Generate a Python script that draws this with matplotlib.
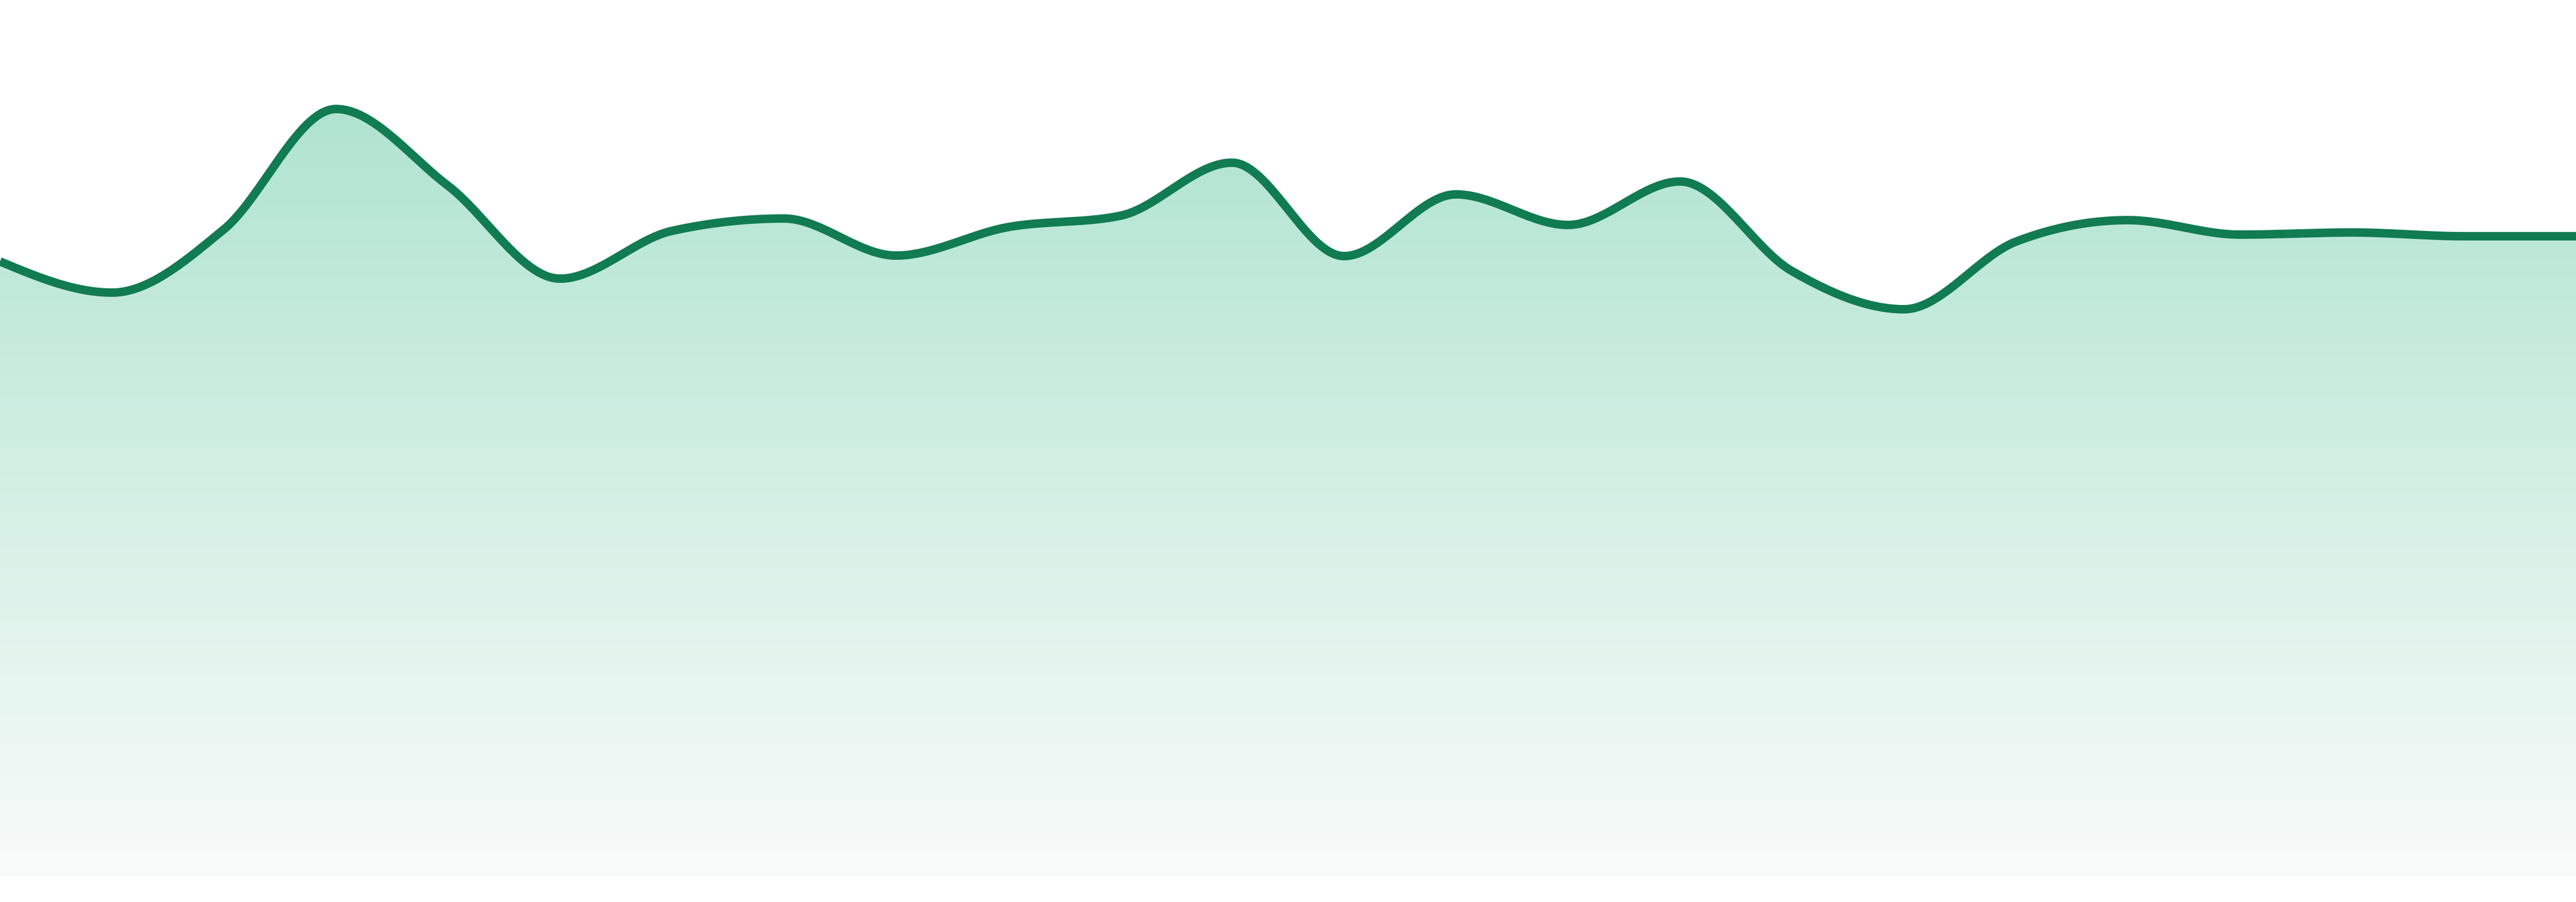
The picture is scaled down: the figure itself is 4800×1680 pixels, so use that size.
import numpy as np
import matplotlib
matplotlib.use("Agg")
import matplotlib.pyplot as plt
from matplotlib.colors import LinearSegmentedColormap

# series (height above the baseline, in px)
days = np.arange(24)
values = [1145, 1087, 1205, 1429, 1286, 1113, 1202, 1225, 1156, 1209, 1230, 1329,
          1155, 1270, 1213, 1294, 1127, 1056, 1182, 1222, 1195, 1199, 1192, 1192]

line_color = "#117b51"
fill_top = "#b0e4d0"
fill_bottom = "#f8fbfa"


def monotone_x(x, y, n=40):
    # cubic hermite with monotone tangents, same idea as d3.curveMonotoneX
    x = np.asarray(x, float)
    y = np.asarray(y, float)
    h = np.diff(x)
    s = np.diff(y) / h
    t = np.zeros_like(y)
    for i in range(1, len(y) - 1):
        p = (s[i - 1] * h[i] + s[i] * h[i - 1]) / (h[i - 1] + h[i])
        t[i] = (np.sign(s[i - 1]) + np.sign(s[i])) * min(abs(s[i - 1]), abs(s[i]), 0.5 * abs(p))
    t[0] = (3 * s[0] - t[1]) / 2
    t[-1] = (3 * s[-1] - t[-2]) / 2
    xs, ys = [], []
    for i in range(len(h)):
        u = np.linspace(0, 1, n, endpoint=(i == len(h) - 1))
        h00 = 2 * u**3 - 3 * u**2 + 1
        h10 = u**3 - 2 * u**2 + u
        h01 = -2 * u**3 + 3 * u**2
        h11 = u**3 - u**2
        xs.append(x[i] + u * h[i])
        ys.append(h00 * y[i] + h10 * h[i] * t[i] + h01 * y[i + 1] + h11 * h[i] * t[i + 1])
    return np.concatenate(xs), np.concatenate(ys)


fig = plt.figure(figsize=(16, 5.6), dpi=300)
ax = fig.add_axes([0, 48 / 1680, 1, 1632 / 1680])
ax.set_xlim(days[0], days[-1])
ax.set_ylim(0, 1632)
ax.axis("off")

sx, sy = monotone_x(days, values)

# gradient area under the curve
top = max(values)
cmap = LinearSegmentedColormap.from_list("fade", [fill_bottom, fill_top])
grad = np.linspace(0, 1, 256).reshape(-1, 1)
img = ax.imshow(grad, cmap=cmap, aspect="auto", origin="lower",
                extent=(days[0], days[-1], 0, top), zorder=1)
poly = ax.fill_between(sx, 0, sy, color="none", lw=0)
clip = plt.Polygon(np.column_stack([np.r_[sx, sx[-1], sx[0]], np.r_[sy, 0, 0]]),
                   transform=ax.transData)
img.set_clip_path(clip)
# above the gradient top there is only the peak tip; cover it with the top colour
ax.fill_between(sx, top, np.maximum(sy, top), color=fill_top, lw=0, zorder=1)

ax.plot(sx, sy, color=line_color, lw=3.8, solid_capstyle="butt", zorder=3)

fig.savefig("out.png", dpi=300, facecolor="white")
